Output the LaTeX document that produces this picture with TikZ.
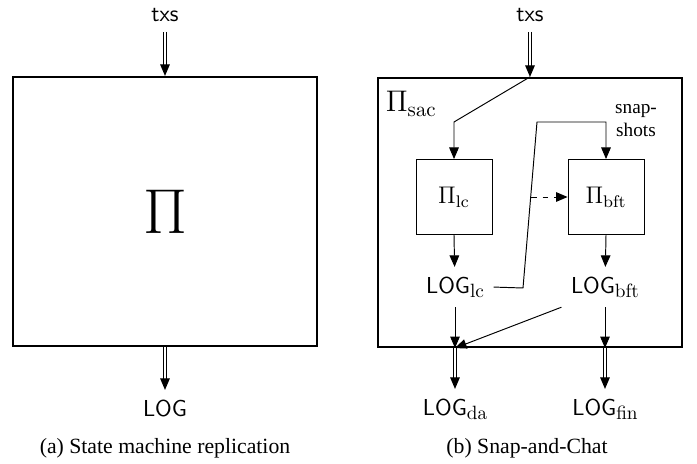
\RequirePackage{fix-cm}
\documentclass[tikz,border=0pt]{standalone}
\usepackage[no-math]{fontspec}
\setmainfont{Liberation Serif}
\usetikzlibrary{arrows.meta, positioning}

\newcommand\logsub[1]{\raisebox{-0.45ex}{\fontsize{10}{12}\selectfont$\mathrm{#1}$}}

\begin{document}
\begin{tikzpicture}[
  x=0.52pt, y=-0.52pt,
  outer/.style={rectangle, draw, line width=1pt, minimum width=158pt,
                minimum height=140pt},
  inner/.style={rectangle, draw, line width=0.5pt, minimum width=39.5pt,
                minimum height=39pt, font=\fontsize{12.5}{14}\selectfont},
  lbl/.style={font=\large\sffamily, inner sep=2pt, outer sep=3pt},
  arr/.style={-{Triangle[length=6pt, width=5pt]}, line width=0.5pt},
  dbl/.style={arr, double, double distance=1.4pt},
  captxt/.style={font=\fontsize{11.3}{13}\selectfont},
]
  \useasboundingbox (0,0) rectangle (697,464);

  % (a) state machine replication
  \node[lbl, anchor=base] (txsa) at (165,22) {txs};
  \node[outer] (smr) at (165,211.5) {\fontsize{33}{36}\selectfont$\Pi$};
  \node[lbl, anchor=base] (loga) at (165,416) {LOG};
  \node[captxt, anchor=base] (capa) at (165,453) {(a) State machine replication};

  \draw[dbl] (txsa) -- (smr.north);
  \draw[dbl] (smr.south) -- (loga);

  % (b) snap-and-chat
  \node[lbl, anchor=base] (txsb) at (530,22) {txs};
  \node[outer] (sac) at (530,212.5) {};
  \node[font=\fontsize{15.5}{18}\selectfont, below right=4pt and 1pt of sac.north west]
    (saclbl) {$\Pi_{\mathrm{sac}}$};

  \node[inner] (plc) at (454,197) {$\Pi_{\mathrm{lc}}$};
  \node[inner] (pbft) at (606,197) {$\Pi_{\mathrm{bft}}$};
  \node[align=center] (snap) at (636,121) {snap-\\shots};

  \node[lbl, anchor=base] (loglc) at (455,293) {LOG\logsub{lc}};
  \node[lbl, anchor=base] (logbft) at (605,293) {LOG\logsub{bft}};
  \node[lbl, anchor=base] (logda) at (455,415) {LOG\logsub{da}};
  \node[lbl, anchor=base] (logfin) at (605,415) {LOG\logsub{fin}};
  \node[captxt, anchor=base] (capb) at (527,453) {(b) Snap-and-Chat};

  \coordinate (b1) at (454,122);
  \coordinate (s1) at (523,288);
  \coordinate (s2) at (537,122);
  \coordinate (d0) at (531,197);
  \coordinate (outda) at (loglc |- sac.south);
  \coordinate (outfin) at (logbft |- sac.south);

  \draw[dbl] (txsb) -- (sac.north);
  \draw[arr] (sac.north) -- (b1) -- (plc.north);
  \draw[arr] (loglc.east) -- (s1) -- (s2) -| (pbft.north);
  \draw[arr, dash pattern=on 3pt off 3pt] (d0) -- (pbft.west);

  \draw[arr] (plc.south) -- (loglc);
  \draw[arr] (pbft.south) -- (logbft);
  \draw[arr] (loglc) -- (outda);
  \draw[arr] (logbft) -- (outfin);
  \draw[arr] (logbft.south west) -- (outda);

  \draw[dbl] (outda) -- (logda);
  \draw[dbl] (outfin) -- (logfin);
\end{tikzpicture}
\end{document}
